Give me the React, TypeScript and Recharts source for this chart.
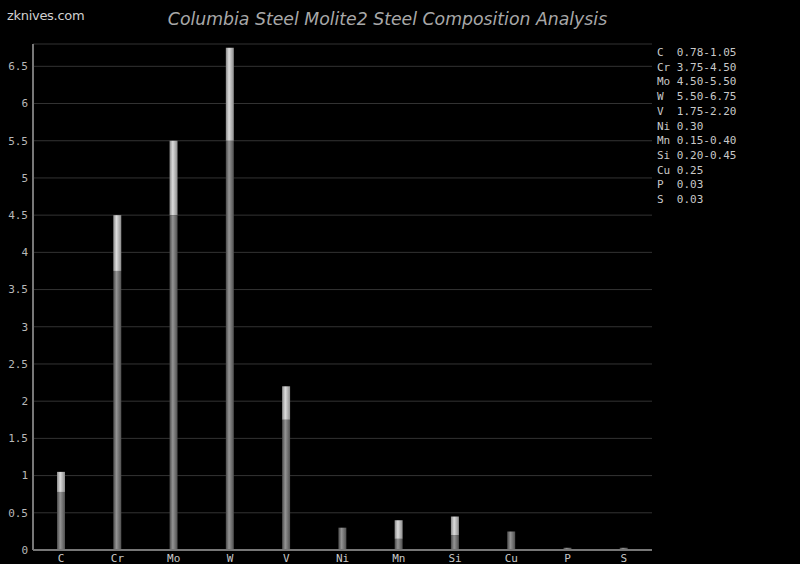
import React from 'react'
import { BarChart, Bar, XAxis, YAxis, CartesianGrid } from 'recharts'

const elements = ['C', 'Cr', 'Mo', 'W', 'V', 'Ni', 'Mn', 'Si', 'Cu', 'P', 'S']
const minValues = [0.78, 3.75, 4.5, 5.5, 1.75, 0.3, 0.15, 0.2, 0.25, 0.03, 0.03]
const maxValues = [1.05, 4.5, 5.5, 6.75, 2.2, 0.3, 0.4, 0.45, 0.25, 0.03, 0.03]
const rangeLabels = ['0.78-1.05', '3.75-4.50', '4.50-5.50', '5.50-6.75', '1.75-2.20', '0.30', '0.15-0.40', '0.20-0.45', '0.25', '0.03', '0.03']
const yTicks = [0, 0.5, 1, 1.5, 2, 2.5, 3, 3.5, 4, 4.5, 5, 5.5, 6, 6.5]

const data = elements.map((el, i) => ({
  name: el,
  low: minValues[i],
  high: +(maxValues[i] - minValues[i]).toFixed(2),
}))

const mono = '"DejaVu Sans Mono", monospace'

const RangeLegend = () => (
  <div style={{ position: 'absolute', left: 657, top: 46, fontFamily: mono, fontSize: 11, color: '#c8c8c8', lineHeight: '14.7px', whiteSpace: 'pre' }}>
    {elements.map((el, i) => (
      <div key={el}>{el.padEnd(2, ' ') + ' ' + rangeLabels[i]}</div>
    ))}
  </div>
)

export default function App() {
  return (
    <div style={{ position: 'fixed', left: 0, top: 0, width: 800, height: 564, background: '#000', overflow: 'hidden' }}>
      <div style={{ position: 'absolute', left: 7, top: 8, fontFamily: '"DejaVu Sans", sans-serif', fontSize: 13, color: '#d0d0d0', letterSpacing: -0.3 }}>
        zknives.com
      </div>
      <div style={{ position: 'absolute', left: 0, width: 775, top: 9, textAlign: 'center', fontFamily: '"DejaVu Sans", sans-serif', fontStyle: 'italic', fontSize: 17.3, color: '#a8a8a8' }}>
        Columbia Steel Molite2 Steel Composition Analysis
      </div>
      <BarChart width={800} height={564} data={data} margin={{ top: 44, right: 148, left: 0, bottom: 0 }} barSize={8}>
        <defs>
          <linearGradient id="lowGrad" x1="0" y1="0" x2="1" y2="0">
            <stop offset="0%" stopColor="#4a4a4a" />
            <stop offset="40%" stopColor="#949494" />
            <stop offset="100%" stopColor="#505050" />
          </linearGradient>
          <linearGradient id="highGrad" x1="0" y1="0" x2="1" y2="0">
            <stop offset="0%" stopColor="#8a8a8a" />
            <stop offset="40%" stopColor="#dcdcdc" />
            <stop offset="100%" stopColor="#8c8c8c" />
          </linearGradient>
        </defs>
        <CartesianGrid vertical={false} stroke="#333" />
        <XAxis
          dataKey="name"
          height={14}
          tickLine={false}
          tickSize={2}
          axisLine={{ stroke: '#777', strokeWidth: 2 }}
          tick={{ fill: '#c8c8c8', fontSize: 11, fontFamily: mono }}
          interval={0}
        />
        <YAxis
          width={33}
          domain={[0, 6.8]}
          ticks={yTicks}
          tickLine={false}
          tickSize={3}
          tickMargin={2}
          axisLine={{ stroke: '#777', strokeWidth: 2 }}
          tick={{ fill: '#b8b8b8', fontSize: 11, fontFamily: mono }}
        />
        <Bar dataKey="low" stackId="a" fill="url(#lowGrad)" isAnimationActive={false} />
        <Bar dataKey="high" stackId="a" fill="url(#highGrad)" isAnimationActive={false} />
      </BarChart>
      <RangeLegend />
    </div>
  )
}
